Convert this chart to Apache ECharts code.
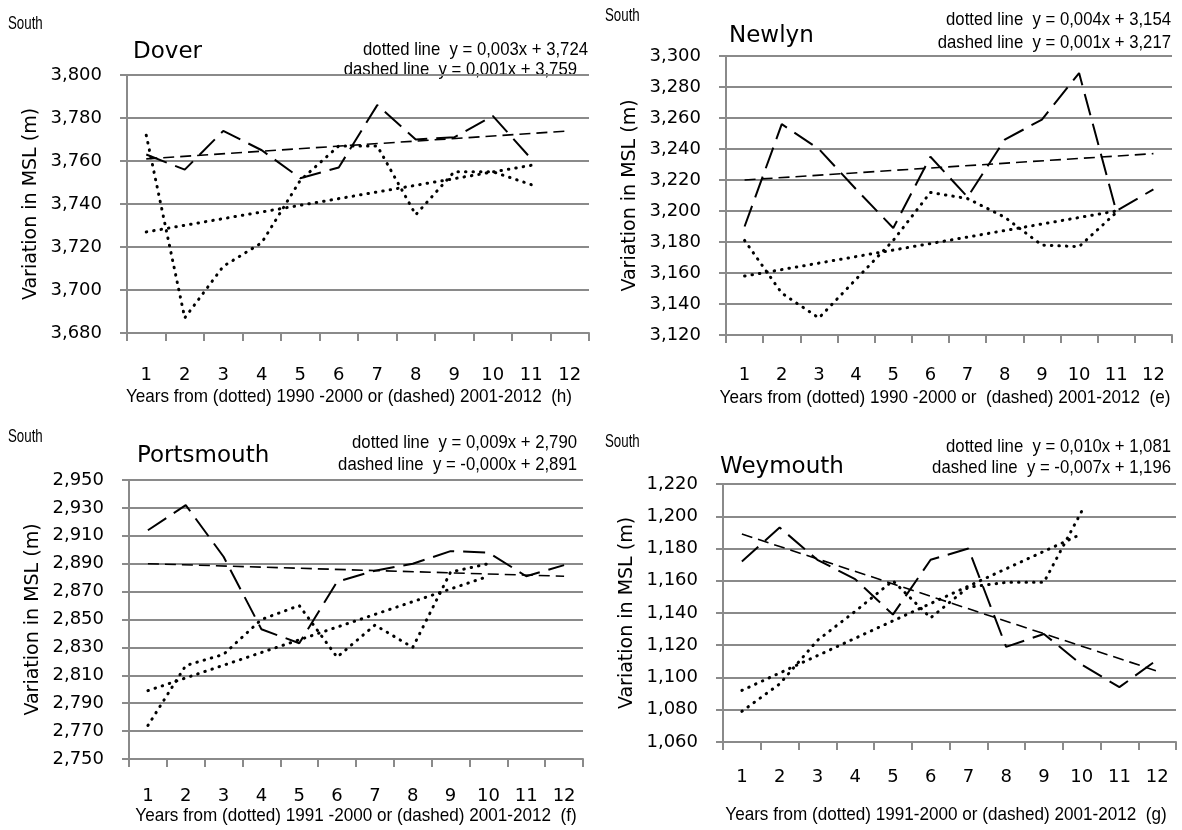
<!DOCTYPE html>
<html>
<head>
<meta charset="utf-8">
<script src="https://cdn.jsdelivr.net/npm/echarts@6/dist/echarts.min.js"></script>
<style>
html, body { margin: 0; padding: 0; background: #fff; }
#chart { width: 1182px; height: 830px; }
</style>
</head>
<body>
<div id="chart"></div>
<script>
// years on the x axis
var years = ['1', '2', '3', '4', '5', '6', '7', '8', '9', '10', '11', '12'];

// Dover (h)
var doverDotted = [3.772, 3.687, 3.711, 3.722, 3.751, 3.767, 3.767, 3.735, 3.755, 3.755, 3.749];
var doverDashed = [3.763, 3.756, 3.774, 3.765, 3.752, 3.757, 3.786, 3.770, 3.771, 3.781, 3.761];
var doverDotTrend = [3.727, 3.758];
var doverDashTrend = [3.761, 3.774];

// Newlyn (e)
var newlynDotted = [3.181, 3.147, 3.131, 3.156, 3.181, 3.212, 3.208, 3.196, 3.178, 3.177, 3.199];
var newlynDashed = [3.190, 3.256, 3.240, 3.214, 3.189, 3.235, 3.209, 3.246, 3.259, 3.289, 3.200, 3.214];
var newlynDotTrend = [3.158, 3.200];
var newlynDashTrend = [3.220, 3.237];

// Portsmouth (f)
var portsDotted = [2.774, 2.817, 2.825, 2.850, 2.860, 2.823, 2.846, 2.830, 2.884, 2.890];
var portsDashed = [2.914, 2.932, 2.895, 2.843, 2.833, 2.877, 2.885, 2.890, 2.899, 2.898, 2.881, 2.889];
var portsDotTrend = [2.799, 2.881];
var portsDashTrend = [2.890, 2.881];

// Weymouth (g)
var weyDotted = [1.079, 1.096, 1.123, 1.141, 1.160, 1.137, 1.156, 1.159, 1.159, 1.203];
var weyDashed = [1.172, 1.193, 1.173, 1.161, 1.139, 1.173, 1.180, 1.119, 1.127, 1.108, 1.094, 1.111];
var weyDotTrend = [1.092, 1.189];
var weyDashTrend = [1.189, 1.104];

(function(){

var chart = echarts.init(document.getElementById("chart"));

var gray = '#8a8a8a';
var numFont = 'DejaVu Sans';

function fmt(v) {
    return v.toFixed(3).replace('.', ',');
}

// trend line: first and last year of its series
function trend(ends, n) {
    return [[0, ends[0]], [n - 1, ends[1]]];
}

var panels = [
    {grid: {left: 127, top: 75, width: 462, height: 258}, min: 3.68, max: 3.80, xMargin: 33,
     dotted: doverDotted, dashed: doverDashed, dotTrend: doverDotTrend, dashTrend: doverDashTrend, dashN: 12},
    {grid: {left: 726, top: 56, width: 446, height: 279}, min: 3.12, max: 3.30, xMargin: 31,
     dotted: newlynDotted, dashed: newlynDashed, dotTrend: newlynDotTrend, dashTrend: newlynDashTrend, dashN: 12},
    {grid: {left: 129, top: 480, width: 454, height: 279}, min: 2.75, max: 2.95, xMargin: 28,
     dotted: portsDotted, dashed: portsDashed, dotTrend: portsDotTrend, dashTrend: portsDashTrend, dashN: 12},
    {grid: {left: 723, top: 484, width: 453, height: 258}, min: 1.06, max: 1.22, xMargin: 26,
     dotted: weyDotted, dashed: weyDashed, dotTrend: weyDotTrend, dashTrend: weyDashTrend, dashN: 12}
];

var dotStyle = {color: '#000', width: 3, type: [0.5, 7], cap: 'round'};

var grids = [], xAxes = [], yAxes = [], series = [];

panels.forEach(function(p, i){
    grids.push(p.grid);
    xAxes.push({
        gridIndex: i,
        type: 'category',
        data: years,
        boundaryGap: true,
        axisLine: {lineStyle: {color: gray, width: 2}},
        axisTick: {show: true, length: 8, lineStyle: {color: gray, width: 2}},
        axisLabel: {interval: 0, margin: p.xMargin, color: '#000', fontSize: 18, fontFamily: numFont},
        splitLine: {show: false}
    });
    yAxes.push({
        gridIndex: i,
        type: 'value',
        min: p.min,
        max: p.max,
        interval: 0.02,
        name: 'Variation in MSL (m)',
        nameLocation: 'middle',
        nameRotate: 90,
        nameGap: 86,
        nameTextStyle: {fontSize: 19, color: '#000', fontFamily: numFont},
        axisLine: {show: true, lineStyle: {color: gray, width: 2}},
        axisTick: {show: true, length: 7, lineStyle: {color: gray, width: 2}},
        axisLabel: {margin: 25, color: '#000', fontSize: 18, fontFamily: numFont, formatter: fmt},
        splitLine: {lineStyle: {color: gray, width: 2}}
    });
    series.push(
        {type: 'line', xAxisIndex: i, yAxisIndex: i, data: p.dotted, symbol: 'none', lineStyle: dotStyle},
        {type: 'line', xAxisIndex: i, yAxisIndex: i, data: p.dashed, symbol: 'none',
         lineStyle: {color: '#000', width: 2, type: [22, 9]}},
        {type: 'line', xAxisIndex: i, yAxisIndex: i, data: trend(p.dotTrend, p.dotted.length), symbol: 'none',
         lineStyle: dotStyle},
        {type: 'line', xAxisIndex: i, yAxisIndex: i, data: trend(p.dashTrend, p.dashN), symbol: 'none',
         lineStyle: {color: '#000', width: 1.6, type: [11, 6]}}
    );
});

// text squeezed horizontally to look like the narrow font of the original
function txt(s, x, y, font, align, sx) {
    return {type: 'text', x: x, y: y, scaleX: sx || 1, silent: true,
        style: {text: s, font: font, fill: '#000', align: align || 'left', verticalAlign: 'middle'}};
}

var fSouth = '19px Liberation Sans';
var fName = '23px DejaVu Sans';
var fEq = '19px Liberation Sans';
var fTitle = '19px Liberation Sans';
var sSouth = 0.7, sEq = 0.88, sTitle = 0.9;

option = {
    animation: false,
    backgroundColor: '#fff',
    grid: grids,
    xAxis: xAxes,
    yAxis: yAxes,
    series: series,
    graphic: [
        // Dover
        txt('South', 8, 24, fSouth, 'left', sSouth),
        txt('Dover', 133, 52, fName),
        txt('dotted line  y = 0,003x + 3,724', 588, 50, fEq, 'right', sEq),
        txt('dashed line  y = 0,001x + 3,759', 577, 70, fEq, 'right', sEq),
        txt('Years from (dotted) 1990 -2000 or (dashed) 2001-2012  (h)', 349, 397, fTitle, 'center', sTitle),
        // Newlyn
        txt('South', 605, 16, fSouth, 'left', sSouth),
        txt('Newlyn', 729, 36, fName),
        txt('dotted line  y = 0,004x + 3,154', 1171, 20, fEq, 'right', sEq),
        txt('dashed line  y = 0,001x + 3,217', 1171, 43, fEq, 'right', sEq),
        txt('Years from (dotted) 1990 -2000 or  (dashed) 2001-2012  (e)', 945, 398, fTitle, 'center', sTitle),
        // Portsmouth
        txt('South', 8, 437, fSouth, 'left', sSouth),
        txt('Portsmouth', 137, 456, fName),
        txt('dotted line  y = 0,009x + 2,790', 577, 443, fEq, 'right', sEq),
        txt('dashed line  y = -0,000x + 2,891', 577, 465, fEq, 'right', sEq),
        txt('Years from (dotted) 1991 -2000 or (dashed) 2001-2012  (f)', 356, 816, fTitle, 'center', sTitle),
        // Weymouth
        txt('South', 605, 442, fSouth, 'left', sSouth),
        txt('Weymouth', 720, 467, fName),
        txt('dotted line  y = 0,010x + 1,081', 1171, 447, fEq, 'right', sEq),
        txt('dashed line  y = -0,007x + 1,196', 1171, 468, fEq, 'right', sEq),
        txt('Years from (dotted) 1991-2000 or (dashed) 2001-2012  (g)', 946, 815, fTitle, 'center', sTitle)
    ]
};

chart.setOption(option);
})();
</script>
</body>
</html>
